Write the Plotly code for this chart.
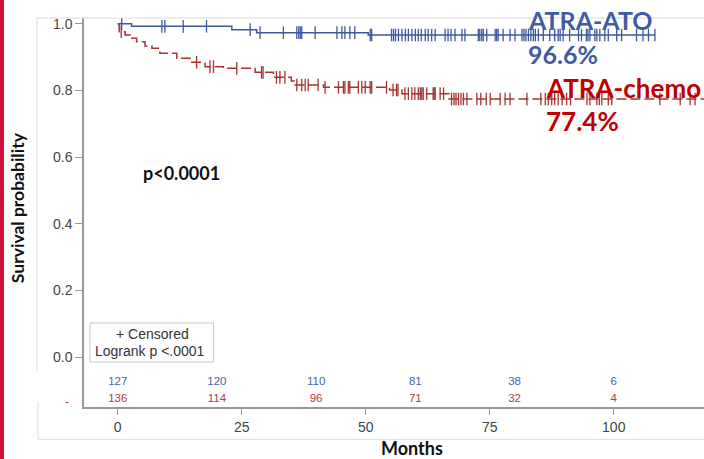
import numpy as np
import plotly.graph_objects as go

# ---- Kaplan-Meier data (months, survival probability) ----
ato_event_t = [2.8, 23.0, 28.0, 50.5]
ato_event_s = [0.992, 0.982, 0.973, 0.966]
ato_end_t = 108.3
ato_censor_t = [0.8, 8.9, 9.5, 13.2, 17.9, 26.7, 28.7, 33.4, 36.1, 36.5, 36.8, 37.1,
                39.8, 44.2, 45.2, 45.8, 46.8, 47.8, 50.9, 51.2, 55.2, 55.6, 56.0, 56.6,
                57.3, 58.0, 58.6, 59.3, 60.0, 60.6, 61.2, 62.0, 62.6, 63.3, 64.0, 66.0,
                66.6, 67.2, 68.0, 69.4, 70.0, 72.7, 73.0, 73.4, 73.7, 74.4, 76.1, 76.4,
                76.7, 77.7, 79.1, 80.1, 81.5, 81.9, 82.3, 82.8, 83.3, 83.8, 84.2, 84.8,
                85.8, 87.1, 88.1, 88.8, 89.2, 89.8, 91.1, 92.9, 93.5, 94.5, 94.8, 95.2,
                96.2, 96.6, 97.2, 98.2, 98.9, 100.6, 101.6, 104.6, 105.9, 107.0, 108.3]

chemo_event_t = [0.3, 1.5, 2.5, 3.8, 5.5, 6.9, 8.5, 11.9, 14.6, 17.6, 21.3, 27.7,
                 31.4, 35.0, 35.6, 41.5, 54.8, 57.3, 66.8]
chemo_event_s = [0.976, 0.966, 0.956, 0.946, 0.933, 0.926, 0.911, 0.896, 0.884, 0.871,
                 0.866, 0.854, 0.839, 0.828, 0.816, 0.809, 0.801, 0.790, 0.774]
chemo_end_t = 118.2
chemo_censor_t = [0.7, 15.9, 18.6, 19.3, 24.0, 29.0, 29.3, 32.0, 32.7, 33.7, 36.1, 37.1,
                  37.8, 38.4, 40.4, 41.8, 44.5, 45.5, 45.8, 46.5, 46.8, 48.5, 49.2, 49.9,
                  50.9, 51.2, 54.2, 55.5, 56.2, 56.5, 57.9, 58.6, 59.3, 59.9, 60.6, 61.0,
                  61.3, 61.6, 62.3, 63.6, 63.8, 64.0, 65.0, 65.7, 67.3, 67.8, 68.2, 68.7,
                  69.2, 69.7, 70.4, 72.4, 73.2, 74.3, 75.1, 77.1, 78.1, 79.1, 82.5, 85.3,
                  86.2, 86.8, 87.5, 88.1, 88.8, 89.6, 90.5, 91.3, 94.6, 95.2, 96.6, 97.1,
                  97.6, 98.9, 99.6, 109.3, 113.4, 115.4, 116.4]

# ---- number at risk ----
risk_times = [0, 20, 40, 60, 80, 100]
ato_at_risk = [127, 120, 110, 81, 38, 6]
chemo_at_risk = [136, 114, 96, 71, 32, 4]

x_ticks = [0, 25, 50, 75, 100]
y_ticks = [0.0, 0.2, 0.4, 0.6, 0.8, 1.0]

BLUE = "#3E58A0"
RED = "#A83232"
BLUE_TXT = "#3F5BA3"
RED_TXT = "#C00000"

W, H = 704, 459
ML, MR, MT, MB = 84, 0, 18, 52.3
PW, PH = W - ML - MR, H - MT - MB


def px(x):
    return (x - ML) / PW


def py(y):
    return (H - MB - y) / PH


def step_xy(event_t, event_s, end_t):
    xs = [0.0] + list(event_t) + [end_t]
    ys = [1.0] + list(event_s) + [event_s[-1]]
    return xs, ys


def surv_at(t, event_t, event_s):
    idx = np.searchsorted(np.asarray(event_t), np.asarray(t), side="right")
    levels = np.concatenate([[1.0], np.asarray(event_s)])
    return levels[idx]


fig = go.Figure()

for ev_t, ev_s, end_t, cen_t, col, dash in [
    (chemo_event_t, chemo_event_s, chemo_end_t, chemo_censor_t, RED, "10px,4px"),
    (ato_event_t, ato_event_s, ato_end_t, ato_censor_t, BLUE, "solid"),
]:
    xs, ys = step_xy(ev_t, ev_s, end_t)
    fig.add_trace(go.Scatter(x=xs, y=ys, mode="lines", line=dict(color=col, width=1.5, dash=dash, shape="hv"),
                             hoverinfo="skip", showlegend=False))
    fig.add_trace(go.Scatter(x=cen_t, y=surv_at(cen_t, ev_t, ev_s), mode="markers",
                             marker=dict(symbol="line-ns-open", size=9, color=col,
                                         line=dict(color=col, width=1.3)),
                             hoverinfo="skip", showlegend=False))

# numbers at risk
fig.add_trace(go.Scatter(x=risk_times, y=[-0.075] * len(risk_times), mode="text",
                         text=[str(v) for v in ato_at_risk],
                         textfont=dict(family="Liberation Sans, Arial", size=11.5, color="#4863A8"),
                         hoverinfo="skip", showlegend=False))
fig.add_trace(go.Scatter(x=risk_times, y=[-0.127] * len(risk_times), mode="text",
                         text=[str(v) for v in chemo_at_risk],
                         textfont=dict(family="Liberation Sans, Arial", size=11.5, color="#B23B3B"),
                         hoverinfo="skip", showlegend=False))

shapes = [
    # left accent bar
    dict(type="rect", xref="paper", yref="paper", x0=px(0), x1=px(4), y0=py(H), y1=py(0),
         fillcolor="#D0123A", line=dict(width=0), layer="above"),
    # outer frame lines
    dict(type="line", xref="paper", yref="paper", x0=px(37), x1=px(W), y0=py(18), y1=py(18),
         line=dict(color="#DDDDDD", width=1)),
    dict(type="line", xref="paper", yref="paper", x0=px(37), x1=px(37), y0=py(18), y1=py(370),
         line=dict(color="#DDDDDD", width=1)),
    dict(type="line", xref="paper", yref="paper", x0=px(38), x1=px(38), y0=py(402), y1=py(439),
         line=dict(color="#DDDDDD", width=1)),
    dict(type="line", xref="paper", yref="paper", x0=px(38), x1=px(W), y0=py(439), y1=py(439),
         line=dict(color="#DDDDDD", width=1)),
    # censoring / logrank legend box
    dict(type="rect", xref="x", yref="y", x0=-5.6, x1=19.3, y0=-0.015, y1=0.102,
         fillcolor="white", line=dict(color="#C8C8C8", width=1), layer="above"),
]

ann_font = "Lato, Liberation Sans, Arial"
annotations = [
    dict(text="<b>ATRA-ATO</b>", x=px(526), y=py(20), font=dict(family=ann_font, size=25, color=BLUE_TXT)),
    dict(text="<b>96.6%</b>", x=px(526), y=py(54), font=dict(family=ann_font, size=25, color=BLUE_TXT)),
    dict(text="<b>ATRA-chemo</b>", x=px(544), y=py(88), font=dict(family=ann_font, size=26, color=RED_TXT)),
    dict(text="<b>77.4%</b>", x=px(544), y=py(121), font=dict(family=ann_font, size=26, color=RED_TXT)),
    dict(text="<b>p<0.0001</b>", x=px(141), y=py(173), font=dict(family=ann_font, size=18, color="#111111")),
]
for a in annotations:
    a.update(xref="paper", yref="paper", xanchor="left", yanchor="middle", showarrow=False)

legend_font = dict(family="Liberation Sans, Arial", size=14, color="#333333")
annotations += [
    dict(text="+ Censored", x=7.0, y=0.070, xref="x", yref="y", font=legend_font),
    dict(text="Logrank p <.0001", x=6.6, y=0.017, xref="x", yref="y", font=legend_font),
    dict(text="-", x=px(67), y=py(402), xref="paper", yref="paper",
         font=dict(family="Liberation Sans, Arial", size=12, color="#B23B3B")),
    dict(text="<b>Survival probability</b>", x=px(17), y=py(208), xref="paper", yref="paper",
         textangle=-90, font=dict(family=ann_font, size=17.5, color="#111111")),
    dict(text="<b>Months</b>", x=px(412), y=py(448), xref="paper", yref="paper",
         font=dict(family=ann_font, size=18, color="#111111")),
]
for a in annotations[5:]:
    a.update(xanchor="center", yanchor="middle", showarrow=False)

tick_font = dict(family="Liberation Sans, Arial", size=14, color="#444444")
fig.update_layout(
    width=W, height=H,
    margin=dict(l=ML, r=MR, t=MT, b=MB, pad=0),
    paper_bgcolor="white", plot_bgcolor="white",
    shapes=shapes, annotations=annotations,
    xaxis=dict(range=[-6.8, 118.2], tickvals=x_ticks, ticks="outside", ticklen=6, tickwidth=1.2,
               tickcolor="#999999", showline=True, linecolor="#999999", linewidth=1.5,
               showgrid=False, zeroline=False, tickfont=tick_font, mirror=False),
    yaxis=dict(range=[-0.150, 1.017], tickvals=y_ticks, tickformat=".1f", ticks="outside", ticklen=7,
               tickwidth=1.2, tickcolor="#999999", showline=True, linecolor="#999999", linewidth=1.5,
               showgrid=False, zeroline=False, tickfont=tick_font, mirror=False),
)

fig.write_html("out.html")
